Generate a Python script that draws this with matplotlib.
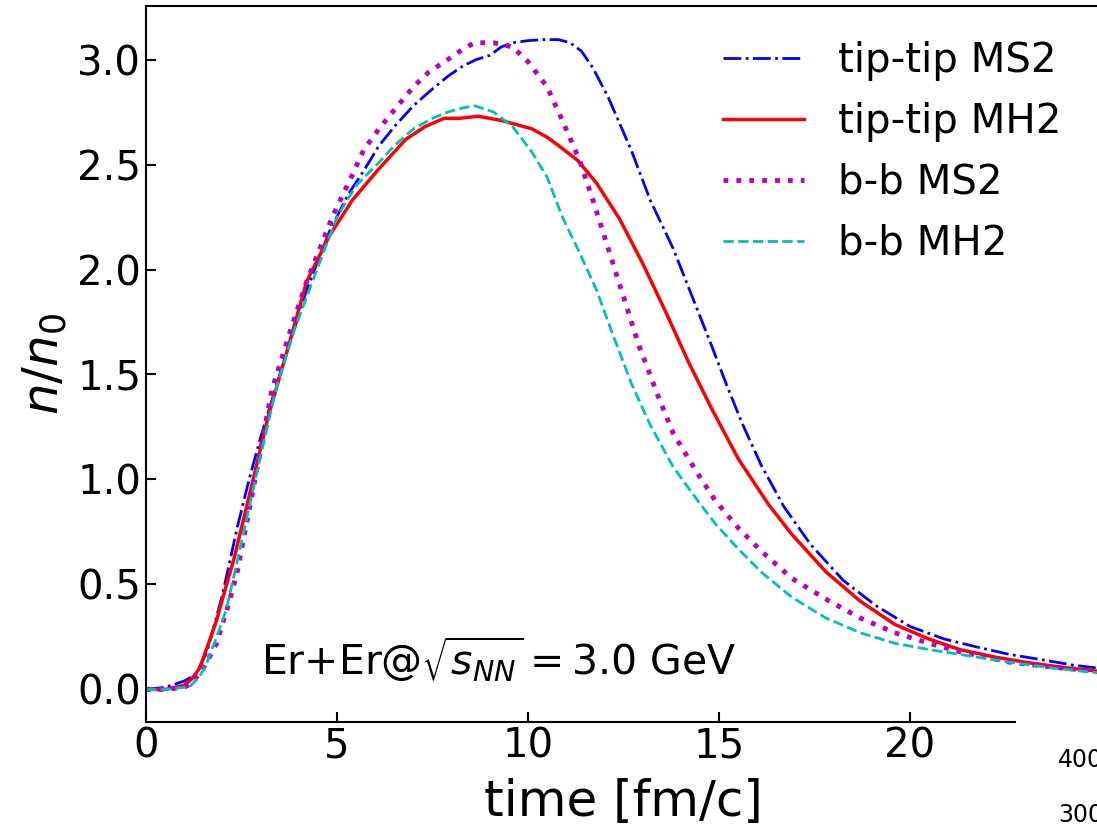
import numpy as np
import matplotlib
matplotlib.use("Agg")
import matplotlib.pyplot as plt
from matplotlib.patches import Rectangle

### values (time in fm/c, n/n0)
t_tt_ms2 = [0, 0.5, 1.0, 1.3, 1.6, 2.0, 2.4, 2.7, 3.0, 3.4, 3.8, 4.2, 4.8, 5.3, 5.7, 6.1, 6.5, 7.0, 7.5, 7.9,
            8.3, 8.65, 9.0, 9.3, 9.6, 10.0, 10.4, 10.8, 11.1, 11.4, 11.7, 12.1, 12.7, 13.2, 13.8, 14.3, 14.8,
            15.2, 15.6, 16.1, 16.7, 17.4, 18.25, 19.1, 20.0, 20.9, 21.8, 22.6, 23.5, 24.3, 25.0]
n_tt_ms2 = [0, 0.01, 0.04, 0.07, 0.18, 0.45, 0.78, 1.0, 1.2, 1.44, 1.67, 1.9, 2.18, 2.36, 2.47, 2.59, 2.68, 2.78,
            2.86, 2.92, 2.97, 3.0, 3.02, 3.06, 3.08, 3.09, 3.095, 3.095, 3.08, 3.04, 2.96, 2.82, 2.57, 2.33, 2.10,
            1.87, 1.64, 1.45, 1.27, 1.07, 0.87, 0.69, 0.52, 0.40, 0.30, 0.24, 0.20, 0.167, 0.14, 0.115, 0.10]

t_tt_mh2 = [0, 0.5, 1.0, 1.2, 1.4, 1.6, 1.85, 2.0, 2.3, 2.7, 3.2, 3.8, 4.2, 4.8, 5.4, 6.1, 6.8, 7.3, 7.8, 8.2,
            8.7, 9.3, 9.7, 10.1, 10.5, 10.8, 11.3, 11.8, 12.4, 13.0, 13.6, 14.2, 14.8, 15.5, 16.3, 16.9, 17.8,
            18.7, 19.6, 20.5, 21.3, 22.2, 23.0, 24.0, 25.0]
n_tt_mh2 = [0, 0.0, 0.02, 0.05, 0.1, 0.2, 0.33, 0.43, 0.62, 0.92, 1.30, 1.68, 1.94, 2.16, 2.33, 2.48, 2.62, 2.68,
            2.72, 2.72, 2.73, 2.71, 2.69, 2.67, 2.63, 2.59, 2.52, 2.41, 2.24, 2.03, 1.80, 1.56, 1.34, 1.10, 0.88,
            0.74, 0.56, 0.42, 0.31, 0.24, 0.19, 0.155, 0.13, 0.105, 0.085]

t_bb_ms2 = [0, 0.5, 1.0, 1.2, 1.5, 1.85, 2.2, 2.4, 2.8, 3.3, 3.8, 4.2, 4.9, 5.4, 5.7, 6.1, 6.5, 7.0, 7.4, 7.9,
            8.3, 8.6, 9.1, 9.6, 10.0, 10.5, 10.9, 11.35, 11.7, 12.1, 12.5, 12.9, 13.4, 13.8, 14.4, 14.9, 15.5,
            16.1, 16.9, 17.8, 18.7, 19.6, 20.5, 21.3, 22.6, 23.8, 25.0]
n_bb_ms2 = [0, 0.0, 0.01, 0.03, 0.1, 0.22, 0.43, 0.57, 0.95, 1.43, 1.72, 1.94, 2.26, 2.45, 2.57, 2.67, 2.76, 2.87,
            2.94, 3.0, 3.05, 3.08, 3.08, 3.06, 2.99, 2.87, 2.71, 2.52, 2.33, 2.10, 1.87, 1.64, 1.40, 1.22, 1.04,
            0.90, 0.77, 0.66, 0.53, 0.43, 0.34, 0.27, 0.22, 0.18, 0.13, 0.105, 0.085]

t_bb_mh2 = [0, 0.5, 1.0, 1.15, 1.4, 1.6, 1.85, 2.1, 2.4, 2.9, 3.4, 3.9, 4.35, 5.0, 5.5, 6.1, 6.5, 7.0, 7.5, 7.9,
            8.3, 8.6, 9.1, 9.6, 10.1, 10.5, 10.9, 11.35, 11.8, 12.2, 12.7, 13.2, 13.8, 14.4, 14.9, 15.5, 16.1,
            16.9, 17.8, 18.7, 19.6, 20.5, 21.3, 22.6, 23.8, 25.0]
n_bb_mh2 = [0, 0.0, 0.01, 0.015, 0.06, 0.13, 0.25, 0.38, 0.62, 1.03, 1.43, 1.72, 1.94, 2.25, 2.40, 2.51, 2.59, 2.67,
            2.72, 2.75, 2.77, 2.78, 2.75, 2.68, 2.56, 2.44, 2.25, 2.08, 1.90, 1.70, 1.46, 1.26, 1.06, 0.91, 0.79,
            0.67, 0.56, 0.44, 0.34, 0.27, 0.22, 0.19, 0.167, 0.13, 0.10, 0.078]

labels = ['tip-tip MS2', 'tip-tip MH2', 'b-b MS2', 'b-b MH2']
yticks = [0.0, 0.5, 1.0, 1.5, 2.0, 2.5, 3.0]
xticks = [0, 5, 10, 15, 20]

W, H = 1097, 827
fig = plt.figure(figsize=(W / 100, H / 100), dpi=100)
ax = fig.add_axes([146 / W, 105 / H, (1101 - 146) / W, (722 - 6) / H])

ax.plot(t_tt_ms2, n_tt_ms2, color='b', ls='-.', lw=2, label=labels[0])
ax.plot(t_tt_mh2, n_tt_mh2, color='r', ls='-', lw=2.5, label=labels[1])
ax.plot(t_bb_ms2, n_bb_ms2, color='m', ls=':', lw=3.5, label=labels[2])
ax.plot(t_bb_mh2, n_bb_mh2, color='c', ls='--', lw=2, label=labels[3])

ax.set_xlim(0, 25)
ax.set_ylim(-0.155, 3.255)
ax.set_xticks(xticks)
ax.set_yticks(yticks)
ax.tick_params(direction='in', labelsize=29, length=7, width=1.5)
for s in ax.spines.values():
    s.set_linewidth(1.5)

ax.set_xlabel('time [fm/c]', fontsize=36, labelpad=8)
ax.set_ylabel(r'$n/n_0$', fontsize=36, labelpad=6)

ax.text(3.0, 0.07, r'Er+Er@$\sqrt{s_{NN}}=3.0$ GeV', fontsize=29.5)

ax.legend(loc='upper left', bbox_to_anchor=(707 / W, (H - 25) / H), bbox_transform=fig.transFigure,
          frameon=False, fontsize=29, borderaxespad=0, handlelength=2.0, handletextpad=0.85,
          labelspacing=0.52)

# neighbouring panel covers the lower right corner
fig.add_artist(Rectangle((1016 / W, 0), 1, (H - 700) / H, transform=fig.transFigure,
                         facecolor='white', edgecolor='none', zorder=5))
fig.text(1058 / W, (H - 760) / H, '400', fontsize=17, va='center', zorder=6)
fig.text(1058 / W, (H - 815) / H, '300', fontsize=17, va='center', zorder=6)

fig.savefig('out.png', dpi=100)
